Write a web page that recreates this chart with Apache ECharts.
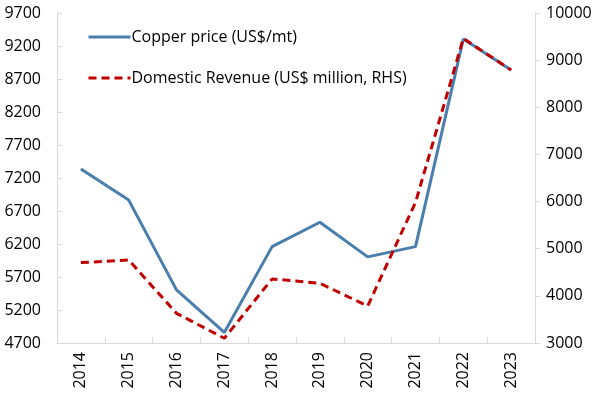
<!DOCTYPE html>
<html>
<head>
<meta charset="utf-8">
<script src="https://cdn.jsdelivr.net/npm/echarts@6/dist/echarts.min.js"></script>
<style>html,body{margin:0;padding:0;background:#fff}#c{width:604px;height:406px}</style>
</head>
<body>
<div id="c"></div>
<script>
const years = ['2014','2015','2016','2017','2018','2019','2020','2021','2022','2023'];
const copperPrice = [7335, 6865, 5505, 4860, 6160, 6530, 6005, 6160, 9305, 8835];
const domesticRevenue = [4705, 4760, 3630, 3100, 4360, 4265, 3785, 5980, 9460, 8790];
const leftTicks = {min: 4700, max: 9700, interval: 500};
const rightTicks = {min: 3000, max: 10000, interval: 1000};

const font = 'Open Sans';
const plain = v => String(v);
const chart = echarts.init(document.getElementById('c'), null, {renderer: 'canvas'});
chart.setOption({
  animation: false,
  textStyle: {fontFamily: font},
  grid: {left: 57, right: 69, top: 13, bottom: 63},
  legend: {
    orient: 'vertical', left: 82, top: 24, itemGap: 25,
    itemWidth: 42, itemHeight: 14,
    itemStyle: {opacity: 0},
    lineStyle: {width: 3},
    textStyle: {fontFamily: font, fontSize: 16, color: '#000', padding: [0,0,0,-4]},
    data: ['Copper price (US$/mt)', 'Domestic Revenue (US$ million, RHS)']
  },
  xAxis: {
    type: 'category', data: years, boundaryGap: true,
    axisLine: {lineStyle: {color: '#d9d9d9', width: 1}},
    axisTick: {show: true, inside: true, length: 6, lineStyle: {color: '#d9d9d9'}},
    axisLabel: {rotate: 90, fontSize: 16, color: '#000', margin: 9, fontFamily: font}
  },
  yAxis: [
    {type: 'value', position: 'left', min: leftTicks.min, max: leftTicks.max, interval: leftTicks.interval,
     splitLine: {show: false},
     axisLine: {show: true, lineStyle: {color: '#d9d9d9'}},
     axisTick: {show: true, inside: true, length: 5, lineStyle: {color: '#d9d9d9'}},
     axisLabel: {fontSize: 16, color: '#000', margin: 16, fontFamily: font, formatter: plain}},
    {type: 'value', position: 'right', min: rightTicks.min, max: rightTicks.max, interval: rightTicks.interval,
     splitLine: {show: false},
     axisLine: {show: true, lineStyle: {color: '#d9d9d9'}},
     axisTick: {show: true, inside: false, length: 5, lineStyle: {color: '#d9d9d9'}},
     axisLabel: {fontSize: 16, color: '#000', margin: 11, fontFamily: font, formatter: plain}}
  ],
  series: [
    {name: 'Copper price (US$/mt)', type: 'line', yAxisIndex: 0, data: copperPrice,
     symbol: 'none', itemStyle: {color: '#4a7ead'},
     lineStyle: {color: '#4a7ead', width: 3}},
    {name: 'Domestic Revenue (US$ million, RHS)', type: 'line', yAxisIndex: 1, data: domesticRevenue,
     symbol: 'none', itemStyle: {color: '#c00000'},
     lineStyle: {color: '#c00000', width: 3, type: [8, 5]}}
  ]
});
</script>
</body>
</html>
